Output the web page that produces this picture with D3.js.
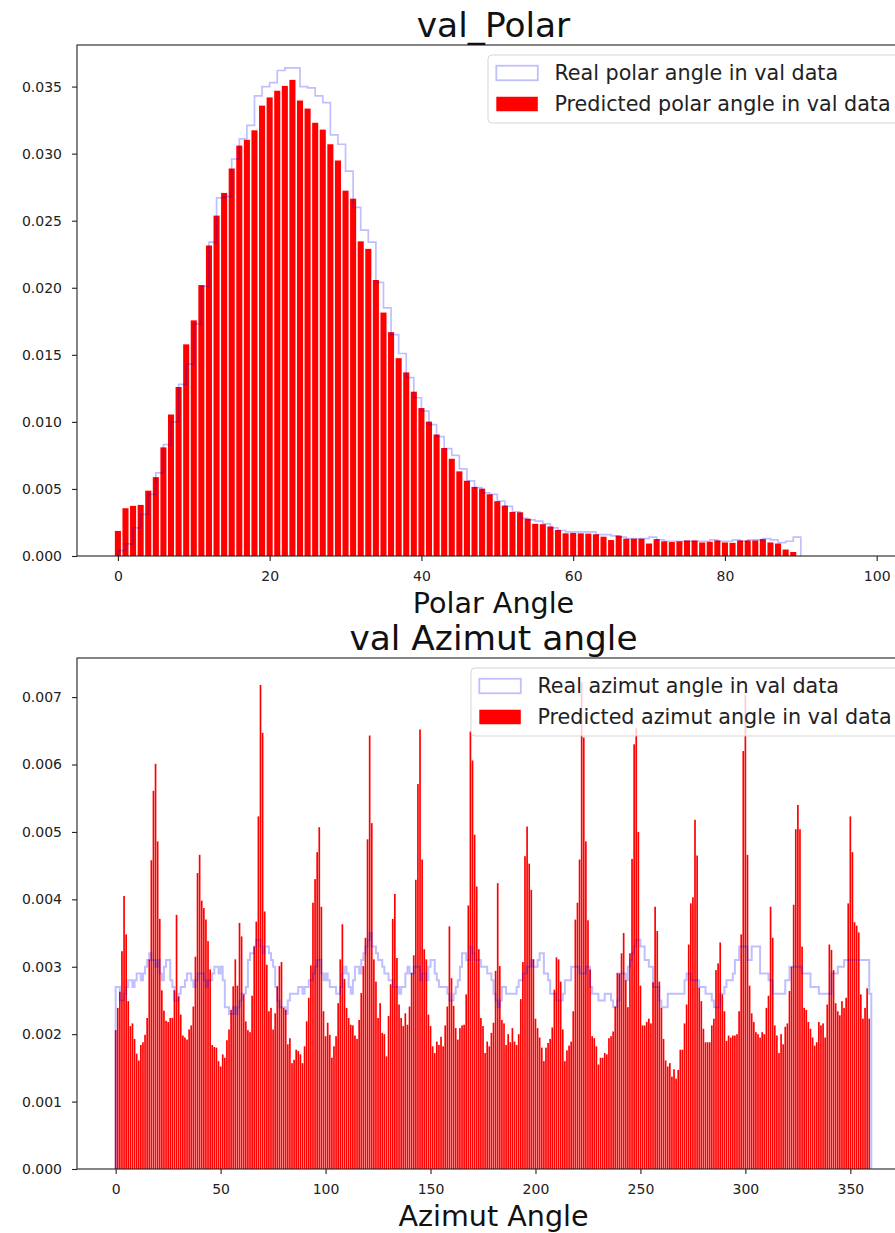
<!DOCTYPE html>
<html><head><meta charset="utf-8">
<script src="https://cdn.jsdelivr.net/npm/d3@7"></script>
<style>
html,body{margin:0;padding:0;background:#fff;}
svg{display:block;font-family:"DejaVu Sans",sans-serif;}
</style></head><body>
<svg id="chart" width="895" height="1233"></svg>
<script>
// ---------------- DATA ----------------
// Polar angle histogram, 1-degree bins starting at 0
const polarPred = [
0.00187,0.00356,0.00374,0.00381,0.00487,0.00588,0.00810,0.01055,0.01260,0.01578,
0.01757,0.02020,0.02315,0.02538,0.02707,0.02889,0.03060,0.03103,0.03174,0.03358,
0.03419,0.03469,0.03505,0.03550,0.03396,0.03336,0.03230,0.03179,0.03070,0.02949,
0.02724,0.02664,0.02346,0.02290,0.02058,0.01815,0.01669,0.01475,0.01369,0.01225,
0.01103,0.01002,0.00906,0.00805,0.00725,0.00631,0.00561,0.00515,0.00502,0.00460,
0.00409,0.00376,0.00328,0.00326,0.00278,0.00240,0.00237,0.00220,0.00194,0.00169,
0.00172,0.00169,0.00167,0.00162,0.00144,0.00119,0.00152,0.00129,0.00129,0.00129,
0.00093,0.00126,0.00109,0.00104,0.00109,0.00116,0.00116,0.00101,0.00106,0.00116,
0.00101,0.00098,0.00116,0.00116,0.00116,0.00126,0.00101,0.00093,0.00048,0.00030];
const polarReal = [
0.0004,0.0009,0.0021,0.0031,0.0046,0.0062,0.0083,0.0100,0.0128,0.0143,
0.0173,0.0201,0.0234,0.0267,0.0268,0.0296,0.0311,0.0321,0.0343,0.0350,
0.0353,0.0362,0.0364,0.0364,0.0350,0.0349,0.0343,0.0338,0.0314,0.0307,
0.0287,0.0260,0.0243,0.0234,0.0204,0.0185,0.0165,0.0151,0.0133,0.0118,
0.0108,0.0098,0.0089,0.0080,0.0075,0.0065,0.0056,0.0051,0.0047,0.0046,
0.0041,0.0037,0.0033,0.0028,0.0027,0.0026,0.0024,0.0021,0.0019,0.0018,
0.0018,0.0018,0.0018,0.0016,0.0016,0.0015,0.0014,0.0013,0.0013,0.0013,
0.0014,0.0012,0.0011,0.0011,0.0011,0.0011,0.0011,0.0011,0.0012,0.0011,
0.0011,0.0012,0.0011,0.0012,0.0012,0.0013,0.0012,0.0010,0.0011,0.0014];
const polarXTicks = [0,20,40,60,80,100];
const polarYTicks = [0,0.005,0.010,0.015,0.020,0.025,0.030,0.035];

// Azimuth angle histogram, 1-degree bins starting at 0
const azimPred = [
0.00206,0.00239,0.00263,0.00323,0.00405,0.00348,0.00249,0.00212,0.00216,0.00193,
0.00171,0.00161,0.00184,0.00188,0.00199,0.00224,0.00311,0.00458,0.00561,0.00601,
0.00486,0.00371,0.00265,0.00235,0.00220,0.00218,0.00224,0.00224,0.00265,0.00377,
0.00256,0.00229,0.00198,0.00195,0.00192,0.00207,0.00213,0.00241,0.00315,0.00439,
0.00466,0.00398,0.00387,0.00370,0.00338,0.00296,0.00184,0.00181,0.00180,0.00160,
0.00152,0.00170,0.00165,0.00191,0.00207,0.00236,0.00271,0.00311,0.00272,0.00365,
0.00345,0.00259,0.00219,0.00206,0.00203,0.00257,0.00330,0.00367,0.00523,0.00718,
0.00647,0.00382,0.00303,0.00234,0.00239,0.00207,0.00231,0.00271,0.00301,0.00307,
0.00239,0.00236,0.00185,0.00194,0.00157,0.00162,0.00177,0.00175,0.00170,0.00157,
0.00182,0.00219,0.00254,0.00302,0.00395,0.00430,0.00470,0.00507,0.00389,0.00234,
0.00197,0.00217,0.00199,0.00165,0.00182,0.00197,0.00246,0.00311,0.00363,0.00282,
0.00239,0.00224,0.00214,0.00213,0.00198,0.00193,0.00221,0.00261,0.00301,0.00343,
0.00489,0.00643,0.00513,0.00311,0.00278,0.00224,0.00246,0.00202,0.00200,0.00167,
0.00227,0.00274,0.00371,0.00408,0.00313,0.00244,0.00224,0.00212,0.00231,0.00214,
0.00241,0.00291,0.00317,0.00429,0.00571,0.00652,0.00459,0.00326,0.00311,0.00229,
0.00212,0.00182,0.00172,0.00189,0.00184,0.00196,0.00182,0.00213,0.00241,0.00360,
0.00283,0.00242,0.00209,0.00192,0.00209,0.00213,0.00214,0.00259,0.00391,0.00649,
0.00606,0.00496,0.00419,0.00326,0.00224,0.00212,0.00172,0.00189,0.00182,0.00202,
0.00217,0.00294,0.00424,0.00301,0.00221,0.00216,0.00184,0.00200,0.00188,0.00209,
0.00189,0.00184,0.00200,0.00252,0.00307,0.00464,0.00508,0.00453,0.00414,0.00311,
0.00223,0.00209,0.00195,0.00180,0.00160,0.00180,0.00187,0.00193,0.00210,0.00266,
0.00314,0.00311,0.00278,0.00207,0.00160,0.00176,0.00183,0.00189,0.00234,0.00370,
0.00395,0.00459,0.00722,0.00640,0.00486,0.00369,0.00296,0.00197,0.00194,0.00182,
0.00155,0.00165,0.00165,0.00172,0.00170,0.00194,0.00197,0.00204,0.00241,0.00291,
0.00290,0.00320,0.00350,0.00280,0.00240,0.00320,0.00460,0.00630,0.00654,0.00500,
0.00272,0.00213,0.00213,0.00218,0.00223,0.00216,0.00277,0.00389,0.00353,0.00278,
0.00239,0.00193,0.00161,0.00152,0.00157,0.00137,0.00148,0.00134,0.00147,0.00177,
0.00177,0.00216,0.00244,0.00333,0.00394,0.00403,0.00518,0.00465,0.00269,0.00249,
0.00208,0.00188,0.00188,0.00188,0.00213,0.00223,0.00295,0.00305,0.00336,0.00259,
0.00234,0.00190,0.00198,0.00195,0.00198,0.00198,0.00200,0.00234,0.00348,0.00620,
0.00703,0.00466,0.00272,0.00231,0.00218,0.00203,0.00200,0.00195,0.00203,0.00200,
0.00239,0.00257,0.00389,0.00343,0.00213,0.00198,0.00172,0.00200,0.00185,0.00211,
0.00216,0.00264,0.00300,0.00392,0.00504,0.00540,0.00504,0.00330,0.00239,0.00236,
0.00218,0.00208,0.00195,0.00183,0.00188,0.00218,0.00213,0.00216,0.00195,0.00244,
0.00333,0.00325,0.00295,0.00246,0.00234,0.00228,0.00249,0.00239,0.00254,0.00394,
0.00523,0.00470,0.00366,0.00361,0.00351,0.00259,0.00223,0.00239,0.00268,0.00223];
const azimReal = [
0.0027,0.0027,0.0025,0.0025,0.0026,0.0027,0.0028,0.0028,0.0027,0.0028,
0.0029,0.0029,0.0028,0.0029,0.0030,0.0031,0.0032,0.0031,0.0031,0.0030,
0.0031,0.0029,0.0028,0.0030,0.0031,0.0031,0.0028,0.0027,0.0025,0.0025,
0.0026,0.0027,0.0027,0.0028,0.0029,0.0029,0.0028,0.0027,0.0028,0.0029,
0.0029,0.0029,0.0028,0.0027,0.0028,0.0028,0.0029,0.0030,0.0030,0.0029,
0.0030,0.0028,0.0024,0.0024,0.0023,0.0023,0.0024,0.0023,0.0024,0.0025,
0.0026,0.0026,0.0027,0.0031,0.0032,0.0032,0.0033,0.0034,0.0034,0.0033,
0.0032,0.0033,0.0033,0.0032,0.0031,0.0030,0.0027,0.0025,0.0024,0.0024,
0.0024,0.0023,0.0025,0.0026,0.0026,0.0026,0.0026,0.0027,0.0027,0.0026,
0.0027,0.0027,0.0028,0.0028,0.0029,0.0030,0.0031,0.0031,0.0029,0.0028,
0.0029,0.0028,0.0027,0.0027,0.0027,0.0026,0.0026,0.0027,0.0029,0.0030,
0.0029,0.0027,0.0026,0.0028,0.0030,0.0030,0.0029,0.0031,0.0032,0.0033,
0.0034,0.0035,0.0033,0.0033,0.0032,0.0031,0.0031,0.0030,0.0029,0.0029,
0.0028,0.0028,0.0027,0.0027,0.0027,0.0026,0.0027,0.0027,0.0029,0.0030,
0.0029,0.0029,0.0030,0.0030,0.0030,0.0028,0.0029,0.0029,0.0028,0.0030,
0.0031,0.0031,0.0029,0.0028,0.0027,0.0027,0.0027,0.0027,0.0026,0.0025,
0.0025,0.0026,0.0027,0.0028,0.0030,0.0032,0.0032,0.0031,0.0031,0.0033,
0.0032,0.0031,0.0031,0.0031,0.0030,0.0030,0.0030,0.0029,0.0029,0.0028,
0.0026,0.0025,0.0024,0.0025,0.0027,0.0027,0.0026,0.0026,0.0026,0.0026,
0.0026,0.0027,0.0028,0.0028,0.0029,0.0029,0.0030,0.0030,0.0031,0.0030,
0.0030,0.0031,0.0032,0.0032,0.0029,0.0029,0.0028,0.0026,0.0026,0.0026,
0.0025,0.0025,0.0025,0.0026,0.0028,0.0028,0.0028,0.0030,0.0030,0.0030,
0.0030,0.0029,0.0029,0.0029,0.0030,0.0030,0.0027,0.0026,0.0026,0.0026,
0.0025,0.0025,0.0025,0.0026,0.0026,0.0026,0.0025,0.0024,0.0024,0.0025,
0.0029,0.0029,0.0029,0.0028,0.0030,0.0031,0.0032,0.0033,0.0034,0.0034,
0.0033,0.0033,0.0031,0.0031,0.0030,0.0030,0.0027,0.0027,0.0027,0.0025,
0.0024,0.0024,0.0024,0.0026,0.0026,0.0026,0.0026,0.0026,0.0026,0.0026,
0.0026,0.0028,0.0029,0.0029,0.0028,0.0028,0.0028,0.0028,0.0027,0.0027,
0.0027,0.0026,0.0026,0.0026,0.0025,0.0024,0.0024,0.0024,0.0026,0.0026,
0.0027,0.0028,0.0028,0.0028,0.0029,0.0031,0.0031,0.0033,0.0033,0.0033,
0.0033,0.0031,0.0031,0.0033,0.0033,0.0033,0.0033,0.0029,0.0029,0.0029,
0.0029,0.0028,0.0028,0.0026,0.0026,0.0026,0.0026,0.0026,0.0026,0.0028,
0.0028,0.0030,0.0030,0.0030,0.0030,0.0030,0.0030,0.0029,0.0029,0.0029,
0.0029,0.0027,0.0027,0.0027,0.0027,0.0026,0.0026,0.0026,0.0026,0.0026,
0.0026,0.0029,0.0029,0.0029,0.0030,0.0030,0.0030,0.0031,0.0031,0.0031,
0.0031,0.0031,0.0031,0.0031,0.0031,0.0031,0.0031,0.0031,0.0031,0.0026];
const azimXTicks = [0,50,100,150,200,250,300,350];
const azimYTicks = [0,0.001,0.002,0.003,0.004,0.005,0.006,0.007];

const panelTitles = ["val_Polar","val Azimut angle"];
const xLabels = ["Polar Angle","Azimut Angle"];
const legendLabels = [
  ["Real polar angle in val data","Predicted polar angle in val data"],
  ["Real azimut angle in val data","Predicted azimut angle in val data"]];

// ---------------- DRAW ----------------
const svg = d3.select("#chart");
svg.append("rect").attr("width",895).attr("height",1233).attr("fill","#fff");

function drawPanel(o){
  const g = svg.append("g");
  const x = d3.scaleLinear().domain(o.xDomain).range([o.left,o.right]);
  const y = d3.scaleLinear().domain(o.yDomain).range([o.bottom,o.top]);

  // predicted bars (plt.bar, width 0.8 centred on bin start)
  g.append("g").selectAll("rect").data(o.pred).join("rect")
    .attr("x",(d,i)=>x(i-0.4))
    .attr("width",(d,i)=>x(i+0.4)-x(i-0.4))
    .attr("y",d=>y(d))
    .attr("height",d=>y(0)-y(d))
    .attr("fill","#ff0000");

  // real histogram as step outline
  const pts = [[0,0]];
  o.real.forEach((v,i)=>pts.push([i,v]));
  pts.push([o.real.length,o.real[o.real.length-1]]);
  pts.push([o.real.length,0]);
  const line = d3.line().x(d=>x(d[0])).y(d=>y(d[1])).curve(d3.curveStepAfter);
  g.append("path").attr("d",line(pts))
    .attr("fill","none").attr("stroke","#0000ff").attr("stroke-opacity",0.25)
    .attr("stroke-width",o.stepWidth).attr("stroke-linejoin","miter");

  // axes
  const xa = g.append("g").attr("transform",`translate(0,${o.bottom})`)
    .call(d3.axisBottom(x).tickValues(o.xTicks).tickSize(5).tickPadding(10).tickFormat(d3.format("d")));
  const ya = g.append("g").attr("transform",`translate(${o.left},0)`)
    .call(d3.axisLeft(y).tickValues(o.yTicks).tickSize(5).tickPadding(10).tickFormat(o.yFmt));
  [xa,ya].forEach(a=>{
    a.select(".domain").remove();
    a.selectAll("line").attr("stroke","#222").attr("stroke-width",1.1);
    a.selectAll("text").attr("font-size","14px").attr("fill","#222")
      .attr("font-family","DejaVu Sans, sans-serif");
  });
  // spines
  g.append("rect").attr("x",o.left).attr("y",o.top)
    .attr("width",o.right-o.left).attr("height",o.bottom-o.top)
    .attr("fill","none").attr("stroke","#222").attr("stroke-width",1.1);

  // title and label
  g.append("text").attr("x",(o.left+o.right)/2).attr("y",o.top-8)
    .attr("text-anchor","middle").attr("font-size","34.4px").attr("fill","#111").text(o.title);
  g.append("text").attr("x",(o.left+o.right)/2).attr("y",o.bottom+57)
    .attr("text-anchor","middle").attr("font-size","28.6px").attr("fill","#111").text(o.xLabel);

  // legend
  const fs = 20.7;
  const lg = g.append("g");
  const lx = o.legendLeft, ly = o.top+10;
  lg.append("rect").attr("x",lx).attr("y",ly).attr("width",o.right-10-lx).attr("height",68)
    .attr("rx",4).attr("fill","#fff").attr("fill-opacity",0.8)
    .attr("stroke","#cccccc").attr("stroke-opacity",0.8).attr("stroke-width",1);
  const hx = lx+8.3, hw = 41.5, hh = 14.5;
  const rows = [ly+18, ly+49];
  lg.append("rect").attr("x",hx).attr("y",rows[0]-hh/2).attr("width",hw).attr("height",hh)
    .attr("fill","none").attr("stroke","#0000ff").attr("stroke-opacity",0.25).attr("stroke-width",1.8);
  lg.append("rect").attr("x",hx).attr("y",rows[1]-hh/2).attr("width",hw).attr("height",hh)
    .attr("fill","#ff0000");
  o.legend.forEach((t,i)=>{
    lg.append("text").attr("x",hx+hw+16.6).attr("y",rows[i]+7.3)
      .attr("font-size",fs+"px").attr("fill","#222").text(t);
  });
}

drawPanel({left:77,right:910,top:45,bottom:556,xDomain:[-5.39,104.39],yDomain:[0,0.0381],
  pred:polarPred,real:polarReal,xTicks:polarXTicks,yTicks:polarYTicks,yFmt:d3.format(".3f"),
  title:panelTitles[0],xLabel:xLabels[0],legend:legendLabels[0],legendLeft:488,stepWidth:1.7});
drawPanel({left:77,right:910,top:658,bottom:1169,xDomain:[-18.42,378.42],yDomain:[0,0.00758],
  pred:azimPred,real:azimReal,xTicks:azimXTicks,yTicks:azimYTicks,yFmt:d3.format(".3f"),
  title:panelTitles[1],xLabel:xLabels[1],legend:legendLabels[1],legendLeft:471,stepWidth:2});
</script>
</body></html>
